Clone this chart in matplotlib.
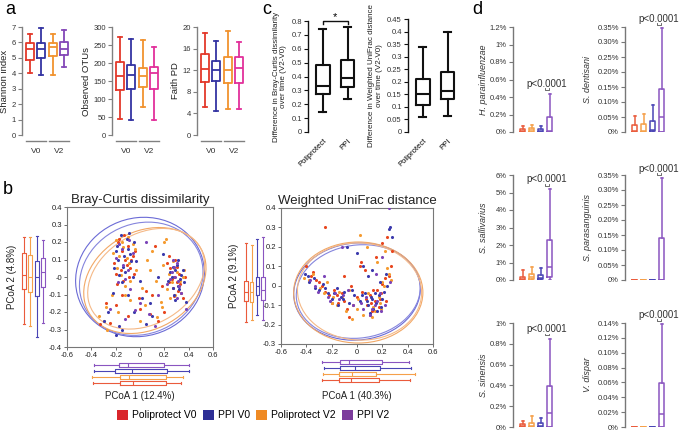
import matplotlib
matplotlib.use("Agg")
import matplotlib.pyplot as plt
from matplotlib.patches import Ellipse, Patch
import numpy as np

plt.rcParams["font.family"] = ["Liberation Sans", "DejaVu Sans"]

# ---- data ----
groups = ["Poliprotect V0", "PPI V0", "Poliprotect V2", "PPI V2"]

# panel a: [whislo, q1, med, q3, whishi]
shannon = [[3.99, 4.89, 5.56, 5.97, 6.57], [3.88, 5.02, 5.6, 5.97, 6.96],
           [3.88, 5.11, 5.71, 5.99, 6.57], [4.42, 5.17, 5.6, 6.03, 6.83]]
otus = [[45, 125, 164, 203, 273], [43, 129, 166, 194, 268],
        [77, 134, 163, 187, 263], [42, 129, 173, 189, 245]]
faith = [[5.2, 9.85, 12.3, 14.95, 18.95], [4.5, 9.97, 12.1, 13.7, 17.5],
         [4.9, 9.66, 12.1, 14.5, 19.2], [4.8, 9.6, 12.4, 14.4, 17.2]]
a_labels = ["Shannon index", "Observed OTUs", "Faith PD"]
a_ticks = [list(range(0, 8)), list(range(0, 301, 50)), list(range(0, 21, 4))]
time_labels = ["V0", "V2"]

# panel c
c_groups = ["Poliprotect", "PPI"]
bc_diff = [[0.145, 0.275, 0.33, 0.48, 0.74], [0.24, 0.325, 0.39, 0.52, 0.755]]
wu_diff = [[0.06, 0.108, 0.152, 0.213, 0.34], [0.065, 0.13, 0.165, 0.24, 0.4]]

# panel b scatter (PCoA 1, PCoA 2); groups: Poliprotect V0, PPI V0, Poliprotect V2, PPI V2
bc_x = [
    [-0.18, -0.15, -0.12, -0.1, -0.08, -0.2, -0.14, -0.06, -0.11, -0.17, -0.09, -0.04,
     0.25, 0.28, 0.3, 0.32, 0.27, 0.33, 0.22, 0.29, 0.31,
     -0.33, -0.28, -0.2, -0.1, 0.0, 0.1, 0.18, 0.05, -0.05, 0.12, 0.2, 0.15, 0.24, -0.25, 0.35,
     -0.21, -0.13, -0.07, -0.16, -0.19, 0.26, 0.3, 0.34, 0.24, 0.28, -0.01, 0.08, -0.15, 0.37],
    [-0.19, -0.16, -0.13, -0.1, -0.07, -0.21, -0.12, -0.05, -0.15, -0.08, -0.18, -0.11,
     0.26, 0.29, 0.31, 0.34, 0.28, 0.3, 0.23, 0.32, 0.27, 0.36,
     -0.3, -0.22, -0.15, -0.05, 0.02, 0.08, 0.15, 0.38, -0.03, -0.2, 0.1, 0.0, -0.17, 0.19,
     -0.14, -0.09, -0.2, -0.06, -0.17, 0.27, 0.31, 0.35, 0.25, 0.29, 0.33, -0.26, 0.05, -0.1],
    [-0.2, -0.17, -0.14, -0.09, -0.06, -0.12, -0.22, -0.03, -0.16, -0.1,
     0.24, 0.27, 0.3, 0.33, 0.22, 0.29, 0.35, 0.2,
     -0.34, -0.27, -0.18, -0.08, 0.02, 0.06, 0.13, 0.17, 0.21, -0.12, 0.0, 0.1, 0.18, 0.25, -0.3, 0.08,
     -0.19, -0.15, -0.11, -0.04, -0.08, 0.28, 0.32, 0.26, 0.36, -0.23, 0.14, 0.04, -0.28, 0.19],
    [-0.17, -0.14, -0.09, -0.06, -0.2, -0.12,
     0.25, 0.28, 0.3, 0.32, 0.26, 0.34,
     -0.25, -0.12, 0.0, 0.07, 0.15, 0.38, 0.05, -0.08, 0.22, 0.3,
     -0.15, -0.1, -0.18, 0.29, 0.31, 0.27, -0.04, 0.12],
]
bc_y = [
    [0.2, 0.15, 0.1, 0.18, 0.05, 0.02, -0.02, 0.12, 0.07, 0.22, 0.0, 0.15,
     0.05, 0.0, -0.03, 0.02, -0.06, -0.04, 0.08, 0.1, -0.08,
     -0.27, -0.15, -0.16, -0.22, -0.18, -0.1, -0.05, -0.08, 0.02, 0.18, -0.2, -0.25, 0.12, -0.26, -0.12,
     0.08, 0.24, 0.1, 0.04, -0.04, -0.01, 0.06, -0.09, -0.03, -0.11, -0.12, -0.21, -0.1, 0.0],
    [0.18, 0.24, 0.12, 0.16, 0.09, 0.05, 0.03, 0.2, -0.03, 0.13, 0.1, 0.22,
     0.0, 0.04, -0.05, 0.01, -0.1, 0.07, -0.02, -0.07, 0.06, -0.03,
     -0.25, -0.09, -0.3, -0.2, -0.12, -0.15, 0.0, -0.14, 0.09, -0.33, -0.22, -0.02, -0.28, 0.13,
     0.06, 0.25, 0.15, 0.0, 0.01, -0.06, 0.1, 0.04, 0.03, -0.13, -0.01, -0.2, -0.27, -0.1],
    [0.21, 0.12, 0.17, 0.08, 0.19, -0.05, 0.14, 0.04, 0.01, 0.23,
     0.02, 0.09, 0.03, -0.02, -0.07, -0.1, 0.0, 0.2,
     -0.22, -0.3, -0.2, -0.13, -0.06, 0.1, -0.02, -0.14, 0.22, -0.1, -0.25, 0.15, -0.17, -0.12, -0.25, 0.04,
     0.05, 0.2, 0.11, 0.16, -0.02, 0.05, -0.05, -0.03, 0.04, -0.1, -0.23, -0.16, -0.17, 0.07],
    [0.19, 0.07, 0.21, 0.14, 0.11, -0.01,
     -0.01, 0.06, 0.08, -0.05, 0.03, -0.09,
     -0.18, -0.24, -0.15, -0.21, -0.1, -0.18, 0.2, -0.07, -0.04, -0.12,
     0.16, 0.04, -0.03, 0.0, -0.02, 0.1, -0.19, -0.28],
]
wu_x = [
    [-0.4, -0.36, -0.32, -0.28, -0.25, -0.22, -0.18, -0.15, -0.12, -0.08, -0.05, 0.0, 0.04, 0.08, 0.1,
     0.12, 0.14, 0.16, 0.18, 0.2, 0.22, 0.25, 0.28, 0.03, 0.06, 0.15, 0.2, 0.24, -0.25, 0.1, -0.1, 0.27,
     -0.35, -0.3, -0.2, -0.16, -0.1, -0.03, 0.07, 0.11, 0.13, 0.17, 0.19, 0.23, 0.02, -0.06],
    [-0.41, -0.38, -0.34, -0.3, -0.27, -0.23, -0.2, -0.16, -0.13, -0.1, -0.06, -0.02, 0.02, 0.06, 0.09,
     0.11, 0.13, 0.15, 0.17, 0.19, 0.21, 0.23, 0.26, 0.28, -0.08, 0.0, 0.05, 0.12, 0.18, 0.25, -0.15, 0.1,
     -0.39, -0.33, -0.25, -0.18, -0.11, -0.04, 0.04, 0.08, 0.12, 0.14, 0.16, 0.2, 0.24, 0.09],
    [-0.42, -0.35, -0.29, -0.24, -0.19, -0.14, -0.09, -0.04, 0.01, 0.05, 0.09, 0.13, 0.17, 0.21, 0.24, 0.27,
     0.02, 0.08, 0.16, 0.22, -0.2, -0.06, 0.12, 0.19,
     -0.38, -0.26, -0.12, 0.0, 0.11, 0.14, 0.18, 0.25, 0.2, -0.16],
    [-0.37, -0.31, -0.26, -0.21, -0.17, -0.11, -0.07, -0.03, 0.03, 0.07, 0.1, 0.14, 0.18, 0.22,
     0.25, 0.2, 0.15, -0.12,
     -0.33, -0.23, -0.14, 0.05, 0.12, 0.16, 0.19, 0.26],
]
wu_y = [
    [0.1, 0.05, 0.03, 0.0, -0.03, -0.05, -0.02, -0.09, -0.04, -0.12, 0.0, -0.06, -0.03, -0.1, -0.05,
     -0.13, -0.08, -0.02, -0.07, 0.01, 0.04, 0.05, 0.18, 0.12, 0.08, 0.15, 0.22, 0.25, 0.3, -0.15, 0.05, 0.1,
     0.07, 0.02, -0.09, -0.05, -0.08, -0.1, -0.07, -0.09, -0.02, -0.11, -0.04, -0.08, 0.1, -0.16],
    [0.06, 0.02, 0.04, -0.02, 0.01, -0.04, -0.07, -0.01, -0.06, -0.03, -0.09, -0.05, -0.08, -0.04, -0.1,
     -0.06, -0.12, -0.09, -0.05, -0.11, -0.03, 0.06, 0.3, 0.25, 0.2, 0.17, 0.1, 0.08, 0.02, 0.29, -0.1, -0.14,
     0.05, -0.01, -0.01, -0.04, -0.07, -0.02, -0.05, -0.08, -0.07, -0.04, -0.13, -0.07, 0.0, 0.05],
    [0.04, 0.06, -0.01, 0.02, -0.06, -0.03, -0.13, -0.17, -0.07, -0.15, -0.04, -0.11, -0.06, 0.0, 0.09, 0.03,
     0.26, 0.2, 0.12, 0.18, -0.09, -0.02, -0.16, -0.12,
     0.03, -0.04, -0.06, -0.12, -0.06, -0.13, -0.09, 0.06, 0.02, -0.1],
    [0.03, -0.03, 0.05, -0.08, -0.04, -0.05, -0.02, -0.1, -0.09, -0.06, -0.15, -0.1, -0.04, -0.1,
     0.4, 0.15, 0.06, 0.2,
     0.0, -0.06, -0.07, -0.12, -0.12, -0.08, -0.13, 0.02],
]
# marginal boxplots [lo, q1, med, q3, hi]; order red, orange, blue, purple
bc_pc2 = [[-0.27, -0.07, 0.01, 0.14, 0.23], [-0.28, -0.085, 0.0, 0.125, 0.23],
          [-0.34, -0.11, 0.0, 0.09, 0.235], [-0.26, -0.055, 0.03, 0.11, 0.21]]
bc_pc1 = [[-0.387, -0.165, -0.055, 0.214, 0.34], [-0.395, -0.165, -0.09, 0.214, 0.35],
          [-0.38, -0.205, -0.066, 0.225, 0.40], [-0.378, -0.173, -0.098, 0.197, 0.40]]
wu_pc2 = [[-0.186, -0.081, -0.03, 0.022, 0.218], [-0.177, -0.085, -0.03, 0.02, 0.21],
          [-0.15, -0.05, 0.0, 0.046, 0.24], [-0.175, -0.075, -0.02, 0.046, 0.25]]
wu_pc1 = [[-0.276, -0.14, -0.05, 0.176, 0.42], [-0.27, -0.14, -0.04, 0.15, 0.46],
          [-0.26, -0.134, -0.016, 0.18, 0.43], [-0.276, -0.134, -0.063, 0.197, 0.41]]
# ellipses: cx, cy, width, height, angle (blue, blue, orange, orange)
bc_ell = [[0.0, 0.0, 1.06, 0.68, 4], [0.01, -0.01, 1.02, 0.64, 7],
          [0.04, -0.02, 1.02, 0.58, 12], [0.05, -0.01, 0.98, 0.54, 14]]
wu_ell = [[0.0, -0.03, 1.0, 0.5, 2], [0.01, -0.03, 0.98, 0.48, 3],
          [0.01, -0.035, 1.02, 0.52, 0], [0.02, -0.03, 0.98, 0.5, -1]]

# panel d (% abundance); order red, orange, blue, purple
d_names = ["H. parainfluenzae", "S. dentisani", "S. sallivarius",
           "S. parasanguinis", "S. sinensis", "V. dispar"]
d_stats = [
    [[0, 0, 0.01, 0.038, 0.065], [0, 0.005, 0.02, 0.046, 0.084], [0, 0, 0.01, 0.04, 0.07], [0, 0, 0.01, 0.17, 0.43]],
    [[0, 0, 0.004, 0.024, 0.053], [0, 0, 0.003, 0.028, 0.061], [0, 0.003, 0.008, 0.036, 0.089], [0, 0, 0.05, 0.144, 0.348]],
    [[0, 0, 0.08, 0.19, 0.57], [0, 0.04, 0.15, 0.32, 0.76], [0, 0.04, 0.13, 0.28, 0.7], [0, 0.15, 0.76, 2.28, 5.2]],
    [[0, 0, 0, 0, 0], [0, 0, 0, 0, 0], [0, 0, 0, 0, 0], [0, 0, 0, 0.139, 0.341]],
    [[0, 0, 0.01, 0.026, 0.058], [0, 0, 0.01, 0.038, 0.11], [0, 0, 0.012, 0.038, 0.09], [0, 0, 0.135, 0.39, 0.85]],
    [[0, 0, 0, 0, 0], [0, 0, 0, 0, 0], [0, 0, 0, 0, 0], [0, 0, 0.018, 0.059, 0.138]],
]
d_ticks = [
    [0, 0.2, 0.4, 0.6, 0.8, 1, 1.2],
    [0, 0.05, 0.1, 0.15, 0.2, 0.25, 0.3, 0.35],
    [0, 1, 2, 3, 4, 5, 6],
    [0, 0.05, 0.1, 0.15, 0.2, 0.25, 0.3, 0.35],
    [0, 0.2, 0.4, 0.6, 0.8, 1],
    [0, 0.02, 0.04, 0.06, 0.08, 0.1, 0.12, 0.14],
]
d_ticklabels = [
    ["0%", "0.2%", "0.4%", "0.6%", "0.8%", "1%", "1.2%"],
    ["0%", "0.05%", "0.10%", "0.15%", "0.20%", "0.25%", "0.30%", "0.35%"],
    ["0%", "1%", "2%", "3%", "4%", "5%", "6%"],
    ["0%", "0.05%", "0.10%", "0.15%", "0.20%", "0.25%", "0.30%", "0.35%"],
    ["0%", "0.2%", "0.4%", "0.6%", "0.8%", "1%"],
    ["0%", "0.02%", "0.04%", "0.06%", "0.08%", "0.10%", "0.12%", "0.14%"],
]
p_text = "p<0.0001"

# ---- style ----
RED, BLUE, ORANGE, PURPLE, MAGENTA = "#e3392b", "#3434a2", "#f1932f", "#8447b8", "#e2309b"
legend_colors = ["#d9262b", "#2e2f96", "#ef8a24", "#7c3c9c"]
sc_colors = ["#e8461e", "#3b3aad", "#f59b30", "#7b44b8"]
mg_colors = ["#ea5b3c", "#f5a04a", "#4a45b5", "#8a55c0"]
GRAY = "#808080"

W, H = 681, 434
fig = plt.figure(figsize=(W / 100, H / 100), dpi=100)


def px_axes(x0, y0, x1, y1):
    return fig.add_axes([x0 / W, 1 - y1 / H, (x1 - x0) / W, (y1 - y0) / H])


def draw_box(ax, s, pos, color, width, lw=1.2, horizontal=False):
    st = dict(whislo=s[0], q1=s[1], med=s[2], q3=s[3], whishi=s[4], fliers=[])
    props = dict(color=color, lw=lw)
    ax.bxp([st], positions=[pos], widths=width, showfliers=False,
           orientation="horizontal" if horizontal else "vertical",
           boxprops=props, whiskerprops=props, capprops=props,
           medianprops=props, manage_ticks=False)


def left_axis_only(ax, color, tick_size=5.5):
    for side in ["top", "right", "bottom"]:
        ax.spines[side].set_visible(False)
    ax.spines["left"].set_color(color)
    ax.spines["left"].set_linewidth(1.0)
    ax.tick_params(axis="y", colors=color, length=3, width=0.8, labelsize=tick_size,
                   labelcolor="#333333", pad=1.5)
    ax.set_xticks([])


# ---- panel a ----
a_data = [shannon, otus, faith]
a_x = [22, 112, 197]
a_box_colors = [[RED, BLUE, ORANGE, PURPLE], [RED, BLUE, ORANGE, MAGENTA], [RED, BLUE, ORANGE, MAGENTA]]
for k in range(3):
    ax = px_axes(a_x[k], 27, a_x[k] + 50, 135)
    for i, s in enumerate(a_data[k]):
        draw_box(ax, s, i + 1, a_box_colors[k][i], 0.7, lw=1.3)
    ax.set_xlim(0.3, 4.7)
    ax.set_ylim(0, a_ticks[k][-1])
    ax.set_yticks(a_ticks[k])
    left_axis_only(ax, GRAY)
    ax.set_ylabel(a_labels[k], fontsize=6.8, labelpad=1.5, color="#222222")
    tr = ax.get_xaxis_transform()
    for j, (xa, xb) in enumerate([(0.65, 2.4), (2.65, 4.4)]):
        ax.plot([xa, xb], [-0.06, -0.06], color=GRAY, lw=1.0, transform=tr, clip_on=False)
        ax.text((xa + xb) / 2, -0.12, time_labels[j], transform=tr, ha="center", va="top",
                fontsize=6, color="#333333")

fig.text(5 / W, 1 - 10 / H, "a", fontsize=13, va="center", ha="left")

# ---- panel c ----
c_data = [bc_diff, wu_diff]
c_x = [308, 408]
c_top = [21, 19]
c_lim = [0.8, 0.45]
c_ticks = [np.round(np.arange(0, 0.81, 0.1), 2), np.round(np.arange(0, 0.451, 0.05), 2)]
c_ylabels = ["Difference in Bray-Curtis dissimilarity\nover time (V2-V0)",
             "Difference in Weighted UniFrac distance\nover time (V2-V0)"]
for k in range(2):
    ax = px_axes(c_x[k], c_top[k], c_x[k] + 52, 132)
    for i, s in enumerate(c_data[k]):
        draw_box(ax, s, i + 1, "#111111", 0.55, lw=1.5)
    ax.set_xlim(0.4, 2.5)
    ax.set_ylim(0, c_lim[k])
    ax.set_yticks(c_ticks[k])
    ax.set_yticklabels([f"{t:g}" for t in c_ticks[k]])
    left_axis_only(ax, "#111111", tick_size=5.5)
    ax.set_ylabel(c_ylabels[k], fontsize=5.8, labelpad=3, color="#222222", linespacing=1.1)
    ax.set_xticks([1, 2])
    ax.set_xticklabels(c_groups, rotation=45, ha="right", fontsize=5.5, rotation_mode="anchor")
    ax.tick_params(axis="x", length=0, pad=4)
    if k == 0:
        ax.plot([1, 1, 2, 2], [0.775, 0.8, 0.8, 0.775], color="#111111", lw=1.0, clip_on=False)
        ax.text(1.5, 0.79, "*", ha="center", va="bottom", fontsize=8)

fig.text(262 / W, 1 - 9 / H, "c", fontsize=13, va="center", ha="left")

# ---- panel b ----
b_specs = [
    dict(title="Bray-Curtis dissimilarity", frame=(67, 207, 213, 347), ylim=(-0.4, 0.4),
         yt=np.round(np.arange(-0.4, 0.41, 0.1), 1), sx=bc_x, sy=bc_y, ell=bc_ell,
         pc1=bc_pc1, pc2=bc_pc2, left=(19, 48), xlab="PCoA 1 (12.4%)", ylab="PCoA 2 (4.8%)", ylx=12),
    dict(title="Weighted UniFrac distance", frame=(281, 208, 433, 344), ylim=(-0.3, 0.4),
         yt=np.round(np.arange(-0.3, 0.41, 0.1), 1), sx=wu_x, sy=wu_y, ell=wu_ell,
         pc1=wu_pc1, pc2=wu_pc2, left=(242, 267), xlab="PCoA 1 (40.3%)", ylab="PCoA 2 (9.1%)", ylx=234),
]
ell_colors = ["#6b6bd6", "#8585dd", "#f2a866", "#f5b987"]
for sp in b_specs:
    x0, y0, x1, y1 = sp["frame"]
    ax = px_axes(x0, y0, x1, y1)
    for e, c in zip(sp["ell"], ell_colors):
        ax.add_patch(Ellipse((e[0], e[1]), e[2], e[3], angle=e[4], fill=False, ec=c, lw=0.8))
    for g in [0, 2, 1, 3]:
        ax.scatter(sp["sx"][g], sp["sy"][g], s=5, color=sc_colors[g], lw=0, zorder=3)
    ax.set_xlim(-0.6, 0.6)
    ax.set_ylim(*sp["ylim"])
    ax.set_xticks(np.round(np.arange(-0.6, 0.61, 0.2), 1))
    ax.set_xticklabels([f"{t:g}" for t in np.round(np.arange(-0.6, 0.61, 0.2), 1)])
    ax.set_yticks(sp["yt"])
    ax.set_yticklabels([f"{t:g}" for t in sp["yt"]])
    for s in ax.spines.values():
        s.set_color("#777777")
        s.set_linewidth(0.8)
    ax.tick_params(length=2, width=0.6, labelsize=5.5, pad=1.5, colors="#555555", labelcolor="#222222")
    ax.set_title(sp["title"], fontsize=9.5, pad=3, color="#222222")

    # left marginal boxplots (PCoA 2)
    axl = px_axes(sp["left"][0], y0, sp["left"][1], y1)
    for i, s in enumerate(sp["pc2"]):
        draw_box(axl, s, i + 1, mg_colors[i], 0.6, lw=0.8)
    axl.set_xlim(0.3, 4.7)
    axl.set_ylim(*sp["ylim"])
    axl.axis("off")
    fig.text(sp["ylx"] / W, 1 - ((y0 + y1) / 2) / H, sp["ylab"], rotation=90,
             ha="center", va="center", fontsize=7, color="#222222")

    # bottom marginal boxplots (PCoA 1)
    axb = px_axes(x0, y1 + 14, x1, y1 + 40)
    for i, s in enumerate(sp["pc1"]):
        draw_box(axb, s, i + 1, mg_colors[i], 0.6, lw=0.8, horizontal=True)
    axb.set_xlim(-0.6, 0.6)
    axb.set_ylim(0.4, 4.6)
    axb.axis("off")
    fig.text(((x0 + x1) / 2) / W, 1 - 396 / H, sp["xlab"], ha="center", va="center",
             fontsize=7, color="#222222")

fig.text(3 / W, 1 - 190 / H, "b", fontsize=13, va="center", ha="left")

# ---- legend ----
handles = [Patch(facecolor=c, edgecolor="none", label=g) for c, g in zip(legend_colors, groups)]
fig.legend(handles=handles, loc="center", bbox_to_anchor=(253 / W, 1 - 415 / H), ncol=4,
           frameon=False, fontsize=7.5, handlelength=1.1, handleheight=1.1,
           handletextpad=0.35, columnspacing=0.6)

# ---- panel d ----
d_cols = [513, 625]
d_rows = [(27, 132), (175, 280), (323, 427)]
d_ylab_x = [483, 588]
p_y = [0.41, 1.03, 0.91, 1.01, 0.89, 1.03]
for k in range(6):
    r, c = divmod(k, 2)
    ax = px_axes(d_cols[c], d_rows[r][0], d_cols[c] + 45, d_rows[r][1])
    for i, s in enumerate(d_stats[k]):
        draw_box(ax, s, i + 1, mg_colors[i], 0.55, lw=1.1)
    ax.set_xlim(-0.1, 4.9)
    ax.set_ylim(0, d_ticks[k][-1])
    ax.set_yticks(d_ticks[k])
    ax.set_yticklabels(d_ticklabels[k])
    left_axis_only(ax, "#777777", tick_size=5.5)
    tr = ax.get_xaxis_transform()
    ax.text(3.6, p_y[k], p_text, transform=tr, ha="center", va="bottom",
            fontsize=7, color="#333333", clip_on=False)
    ax.plot([3.45, 3.45, 3.85, 3.85], [p_y[k] + 0.005, p_y[k] - 0.01, p_y[k] - 0.01, p_y[k] + 0.005],
            transform=tr, color="#555555", lw=0.6, clip_on=False)
    fig.text(d_ylab_x[c] / W, 1 - ((d_rows[r][0] + d_rows[r][1]) / 2) / H, d_names[k],
             rotation=90, style="italic", ha="center", va="center", fontsize=6.5, color="#333333")

fig.text(472 / W, 1 - 10 / H, "d", fontsize=13, va="center", ha="left")

fig.savefig("out.png", dpi=100)
